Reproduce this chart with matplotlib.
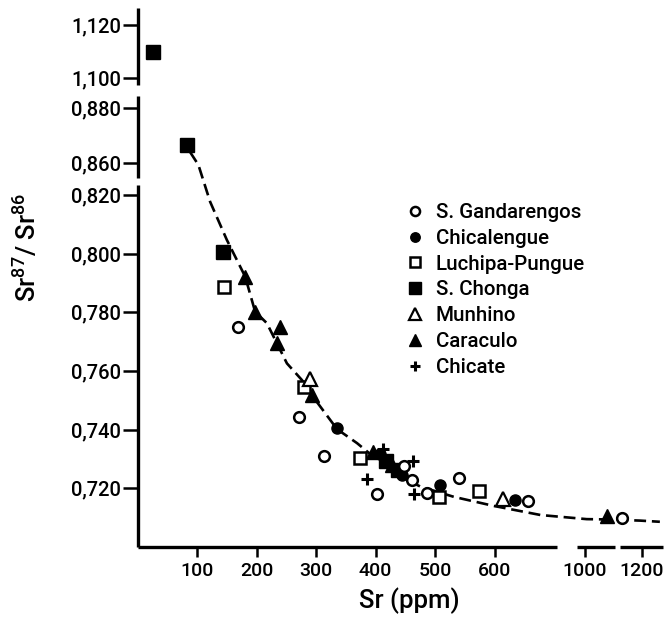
import numpy as np
import matplotlib
matplotlib.use("Agg")
import matplotlib.pyplot as plt
from matplotlib.ticker import FixedLocator, FuncFormatter, NullLocator

plt.rcParams['font.family'] = ['Roboto', 'DejaVu Sans']
plt.rcParams['font.weight'] = 'medium'
plt.rcParams['mathtext.default'] = 'regular'

# ---------------- data (Sr ppm, Sr87/Sr86) ----------------
gand_x = [169.5, 271.7, 313.8, 402.5, 447, 461.4, 486.7, 541, 656, 1131]
gand_y = [0.7751, 0.7444, 0.7310, 0.7182, 0.7276, 0.7228, 0.7183, 0.7234, 0.7158, 0.7100]

chical_x = [335.2, 408, 445, 509, 635]
chical_y = [0.7405, 0.7316, 0.7246, 0.7211, 0.7160]

luchipa_x = [145.5, 279, 374.4, 506.2, 573.6]
luchipa_y = [0.7887, 0.7547, 0.7302, 0.7171, 0.7192]

chonga_x = [26, 83.7, 143, 418, 438]
chonga_y = [1.1098, 0.8666, 0.8005, 0.7294, 0.7263]

munhino_x = [289, 614]
munhino_y = [0.7572, 0.7162]

caraculo_x = [181, 197.6, 240, 234, 293, 395, 428, 1076]
caraculo_y = [0.7922, 0.7802, 0.7751, 0.7694, 0.7518, 0.7323, 0.7281, 0.7106]

chicate_x = [413, 463, 385.7, 464]
chicate_y = [0.7335, 0.7293, 0.7232, 0.7180]

# mixing curve
curve_x = [88.2, 102.2, 121.9, 150, 180.8, 197.6, 217.3, 251, 276.3, 301.5,
           335.2, 368.9, 430.5, 475.4, 531.5, 598.8, 677.4, 1006, 1076, 1193, 1263]
curve_y = [0.8640, 0.8593, 0.8177, 0.8047, 0.7922, 0.7802, 0.7763, 0.7626, 0.7569, 0.7494,
           0.7402, 0.7354, 0.7251, 0.7206, 0.7171, 0.7140, 0.7109, 0.7095, 0.7094, 0.7090, 0.7086]

x_ticks = [100, 200, 300, 400, 500, 600, 1000, 1200]
y_ticks = [0.720, 0.740, 0.760, 0.780, 0.800, 0.820, 0.860, 0.880, 1.100, 1.120]

series_labels = ['S. Gandarengos', 'Chicalengue', 'Luchipa-Pungue', 'S. Chonga',
                 'Munhino', 'Caraculo', 'Chicate']

# ---------------- broken-axis scales (layout) ----------------
XK_D = np.array([0.0, 705.0, 972.0, 1274.0])
XK_P = np.array([0.0, 419.4, 439.4, 525.4])
YK_D = np.array([0.700, 0.820, 0.8234, 0.8545, 0.860, 0.880, 0.8844, 1.0974, 1.100, 1.120, 1.1264])
YK_P = 547.0 - np.array([547, 195, 185, 178, 163, 108, 96, 85, 78, 25, 8], dtype=float)

def xf(v):
    return np.interp(v, XK_D, XK_P)
def xi(v):
    return np.interp(v, XK_P, XK_D)
def yf(v):
    return np.interp(v, YK_D, YK_P)
def yi(v):
    return np.interp(v, YK_P, YK_D)

W, H = 665, 617
fig = plt.figure(figsize=(W / 100, H / 100), dpi=100)
ax = fig.add_axes([137.6 / W, 1 - 547 / H, (663 - 137.6) / W, (547 - 8) / H])
ax.set_xscale('function', functions=(xf, xi))
ax.set_yscale('function', functions=(yf, yi))
ax.set_xlim(0, 1274)
ax.set_ylim(0.700, 1.1264)

for s in ax.spines.values():
    s.set_visible(False)

# broken spine pieces
lwsp = 2.4
for y0, y1 in [(0.700, 0.8234), (0.8545, 0.8844), (1.0974, 1.1264)]:
    ax.plot([0, 0], [y0, y1], color='black', lw=lwsp, clip_on=False, solid_capstyle='butt')
for x0, x1 in [(0, 705), (972, 1105), (1123, 1274)]:
    ax.plot([x0, x1], [0.700, 0.700], color='black', lw=lwsp, clip_on=False, solid_capstyle='butt')

# curve
ax.plot(curve_x, curve_y, color='black', lw=1.9, dashes=(4.5, 2.2), zorder=2)

h_chonga, = ax.plot(chonga_x, chonga_y, ls='none', marker='s', ms=9.5, mfc='black', mec='black', zorder=3)
h_cara, = ax.plot(caraculo_x, caraculo_y, ls='none', marker='^', ms=10, mfc='black', mec='black', zorder=3)
h_chical, = ax.plot(chical_x, chical_y, ls='none', marker='o', ms=8, mfc='black', mec='black', zorder=3)
h_chicate, = ax.plot(chicate_x, chicate_y, ls='none', marker='+', ms=8, mew=2.2, color='black', zorder=4)
h_luch, = ax.plot(luchipa_x, luchipa_y, ls='none', marker='s', ms=8.5, mfc='white', mec='black', mew=1.8, zorder=4)
h_munh, = ax.plot(munhino_x, munhino_y, ls='none', marker='^', ms=9.5, mfc='white', mec='black', mew=1.6, zorder=4)
h_gand, = ax.plot(gand_x, gand_y, ls='none', marker='o', ms=7.7, mfc='white', mec='black', mew=1.8, zorder=5)

for a in (ax.xaxis, ax.yaxis):
    a.set_minor_locator(NullLocator())
ax.xaxis.set_major_locator(FixedLocator(x_ticks))
ax.yaxis.set_major_locator(FixedLocator(y_ticks))
ax.xaxis.set_major_formatter(FuncFormatter(lambda v, p: f"{v:.0f}"))
ax.yaxis.set_major_formatter(FuncFormatter(lambda v, p: f"{v:.3f}".replace('.', ',')))
ax.tick_params(axis='y', direction='out', length=11, width=1.8, pad=1, labelsize=14.5)
ax.tick_params(axis='x', direction='out', length=7, width=1.8, pad=3.5, labelsize=14)

handles = [h_gand, h_chical, h_luch, h_chonga, h_munh, h_cara, h_chicate]
leg = ax.legend(handles, series_labels, loc='upper left', bbox_to_anchor=(406 / W, 1 - 203 / H),
                bbox_transform=fig.transFigure, frameon=False, fontsize=14.8,
                handlelength=0.85, handletextpad=0.6, labelspacing=0.33, borderpad=0, borderaxespad=0,
                markerscale=0.85)

fig.text(27 / W, 1 - 247 / H, 'Sr$^{87}$/ Sr$^{86}$', rotation=90, ha='center', va='center', fontsize=18.5)
fig.text(409 / W, 1 - 601 / H, 'Sr (ppm)', ha='center', va='center', fontsize=18.5)

fig.savefig('out.png', dpi=100)
